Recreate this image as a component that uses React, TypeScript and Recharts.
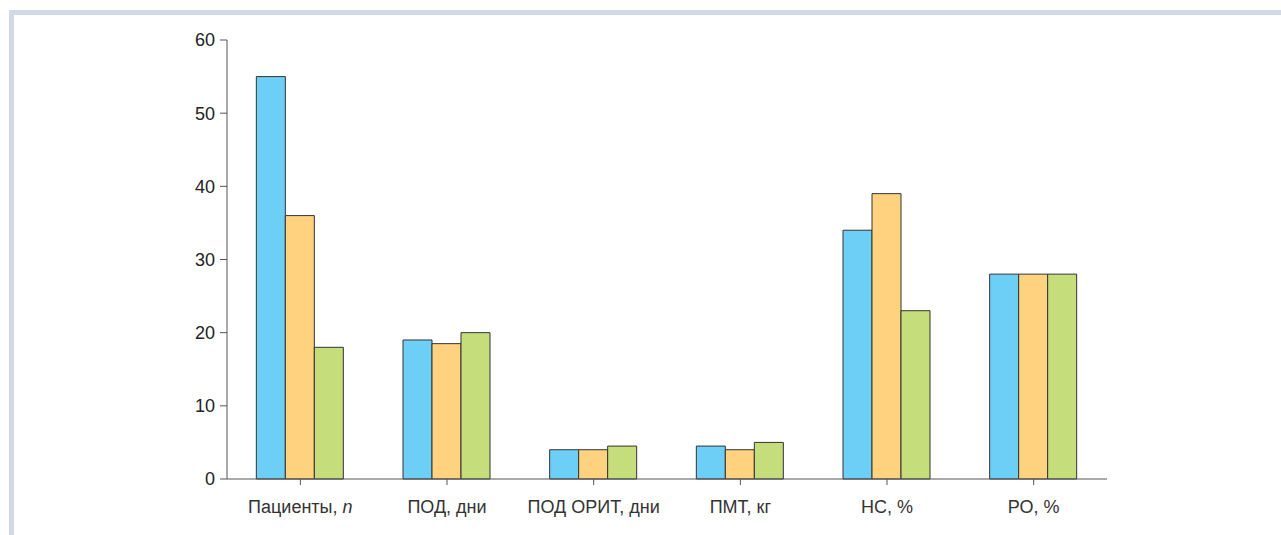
import React from "react";
import { BarChart, Bar, XAxis, YAxis } from "recharts";

const categories = ["Пациенты, n", "ПОД, дни", "ПОД ОРИТ, дни", "ПМТ, кг", "НС, %", "РО, %"];
const seriesBlue = [55, 19, 4, 4.5, 34, 28];
const seriesOrange = [36, 18.5, 4, 4, 39, 28];
const seriesGreen = [18, 20, 4.5, 5, 23, 28];
const yTicks = [0, 10, 20, 30, 40, 50, 60];

const data = categories.map((c, i) => ({
  name: c,
  a: seriesBlue[i],
  b: seriesOrange[i],
  c: seriesGreen[i],
}));

const FONT = "'Liberation Sans', Arial, sans-serif";

const XTick = (props: any) => {
  const { x, y, payload } = props;
  const label: string = payload.value;
  const italicN = label.endsWith(", n");
  return (
    <text x={x} y={y} textAnchor="middle" dominantBaseline="middle" fill="#333" fontSize={18} fontFamily={FONT}>
      {italicN ? (
        <>
          <tspan>{label.slice(0, -1)}</tspan>
          <tspan fontStyle="italic">n</tspan>
        </>
      ) : (
        label
      )}
    </text>
  );
};

export default function App() {
  return (
    <div style={{ position: "absolute", left: 0, top: 0, width: 1281, height: 535, background: "#fff" }}>
      <div
        style={{
          position: "absolute",
          left: 9,
          top: 10,
          right: 0,
          bottom: 0,
          borderTop: "5px solid #d3d8e8",
          borderLeft: "5px solid #d3d8e8",
        }}
      />
      <div style={{ position: "absolute", left: 0, top: 0 }}>
        <BarChart
          width={1281}
          height={535}
          data={data}
          margin={{ top: 40, right: 174, bottom: 16, left: 167 }}
          barCategoryGap="20%"
          barGap={0}
        >
          <XAxis
            dataKey="name"
            height={40}
            tick={<XTick />}
            tickSize={6}
            tickMargin={23}
            stroke="#555"
            axisLine={{ stroke: "#555" }}
            tickLine={{ stroke: "#555" }}
            interval={0}
          />
          <YAxis
            width={60}
            domain={[0, 60]}
            ticks={yTicks}
            tickSize={7}
            tickMargin={5}
            stroke="#555"
            tick={{ fill: "#222", fontSize: 18, fontFamily: FONT }}
            interval={0}
          />
          <Bar dataKey="a" fill="#6dcff6" stroke="#333" strokeWidth={1} isAnimationActive={false} />
          <Bar dataKey="b" fill="#ffd27f" stroke="#333" strokeWidth={1} isAnimationActive={false} />
          <Bar dataKey="c" fill="#c5dd7b" stroke="#333" strokeWidth={1} isAnimationActive={false} />
        </BarChart>
      </div>
    </div>
  );
}
